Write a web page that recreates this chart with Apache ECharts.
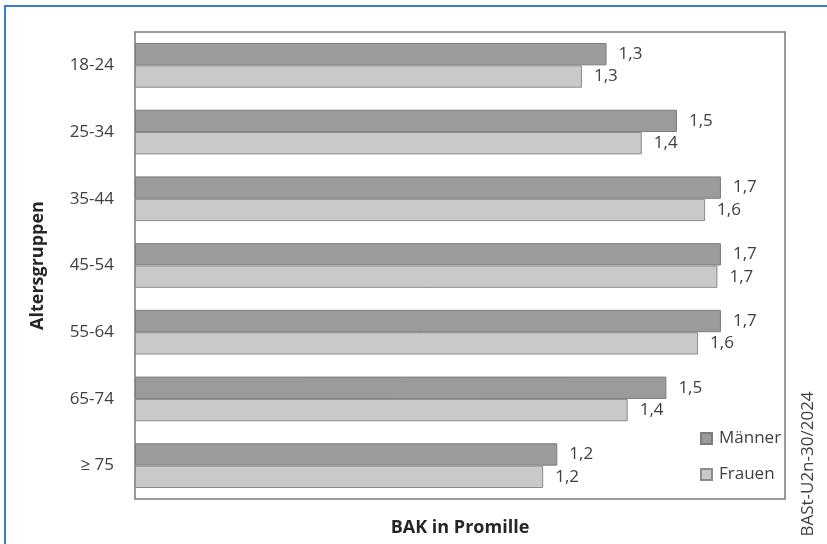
<!DOCTYPE html>
<html>
<head>
<meta charset="utf-8">
<script src="https://cdn.jsdelivr.net/npm/echarts@6/dist/echarts.min.js"></script>
<style>
html,body{margin:0;padding:0;background:#fff;}
#chart{width:827px;height:544px;}
</style>
</head>
<body>
<div id="chart"></div>
<script>
const categories = ['18-24', '25-34', '35-44', '45-54', '55-64', '65-74', '≥ 75'];
const maenner = [1.34, 1.54, 1.665, 1.665, 1.665, 1.51, 1.20];
const frauen = [1.27, 1.44, 1.62, 1.655, 1.60, 1.40, 1.16];
const seriesNames = ['Männer', 'Frauen'];
const xAxisTitle = 'BAK in Promille';
const yAxisTitle = 'Altersgruppen';
const sourceNote = 'BASt-U2n-30/2024';

const FONT = 'Open Sans';
const fmt = p => (Math.round(p.value * 10) / 10).toFixed(1).replace('.', ',');

const chart = echarts.init(document.getElementById('chart'), null, {renderer: 'canvas'});
chart.setOption({
  backgroundColor: '#ffffff',
  animation: false,
  textStyle: {fontFamily: FONT},
  grid: {
    left: 135, top: 32, right: 42, bottom: 45,
    show: true, borderColor: '#7a7a7a', borderWidth: 1.5, backgroundColor: 'transparent'
  },
  legend: {
    orient: 'vertical',
    left: 700, top: 430, padding: 0,
    itemWidth: 11, itemHeight: 11, itemGap: 19,
    icon: 'rect',
    textStyle: {fontFamily: FONT, fontSize: 17, color: '#404040', padding: [0, 0, 0, 2]},
    data: seriesNames
  },
  xAxis: {
    type: 'value', min: 0, max: 1.847,
    axisLine: {show: false}, axisTick: {show: false}, axisLabel: {show: false}, splitLine: {show: false},
    name: xAxisTitle, nameLocation: 'middle', nameGap: 20,
    nameTextStyle: {fontFamily: FONT, fontSize: 18, fontWeight: 'bold', color: '#262626'}
  },
  yAxis: {
    type: 'category', data: categories, inverse: true,
    axisLine: {show: false}, axisTick: {show: false},
    axisLabel: {fontFamily: FONT, fontSize: 17, color: '#404040', margin: 21},
    name: yAxisTitle, nameLocation: 'middle', nameGap: 88,
    nameTextStyle: {fontFamily: FONT, fontSize: 18, fontWeight: 'bold', color: '#262626'}
  },
  series: [
    {
      name: seriesNames[0], type: 'bar', data: maenner,
      barGap: '0%', barCategoryGap: '33%',
      itemStyle: {color: '#9b9b9b', borderColor: '#7c7c7c', borderWidth: 1},
      label: {show: true, position: 'right', distance: 12, formatter: fmt,
        fontFamily: FONT, fontSize: 17, color: '#404040'}
    },
    {
      name: seriesNames[1], type: 'bar', data: frauen,
      itemStyle: {color: '#c9c9c9', borderColor: '#8c8c8c', borderWidth: 1},
      label: {show: true, position: 'right', distance: 12, formatter: fmt,
        fontFamily: FONT, fontSize: 17, color: '#404040'}
    }
  ],
  graphic: [
    {
      type: 'polyline', silent: true,
      shape: {points: [[5, 560], [5, 6], [840, 6]]},
      style: {stroke: '#3b7dc8', lineWidth: 2, fill: null}
    },
    {
      type: 'text', silent: true,
      x: 808, y: 464, rotation: Math.PI / 2,
      style: {text: sourceNote, fontFamily: FONT, fontSize: 17, fill: '#404040',
        align: 'center', verticalAlign: 'middle'}
    }
  ]
});
</script>
</body>
</html>
